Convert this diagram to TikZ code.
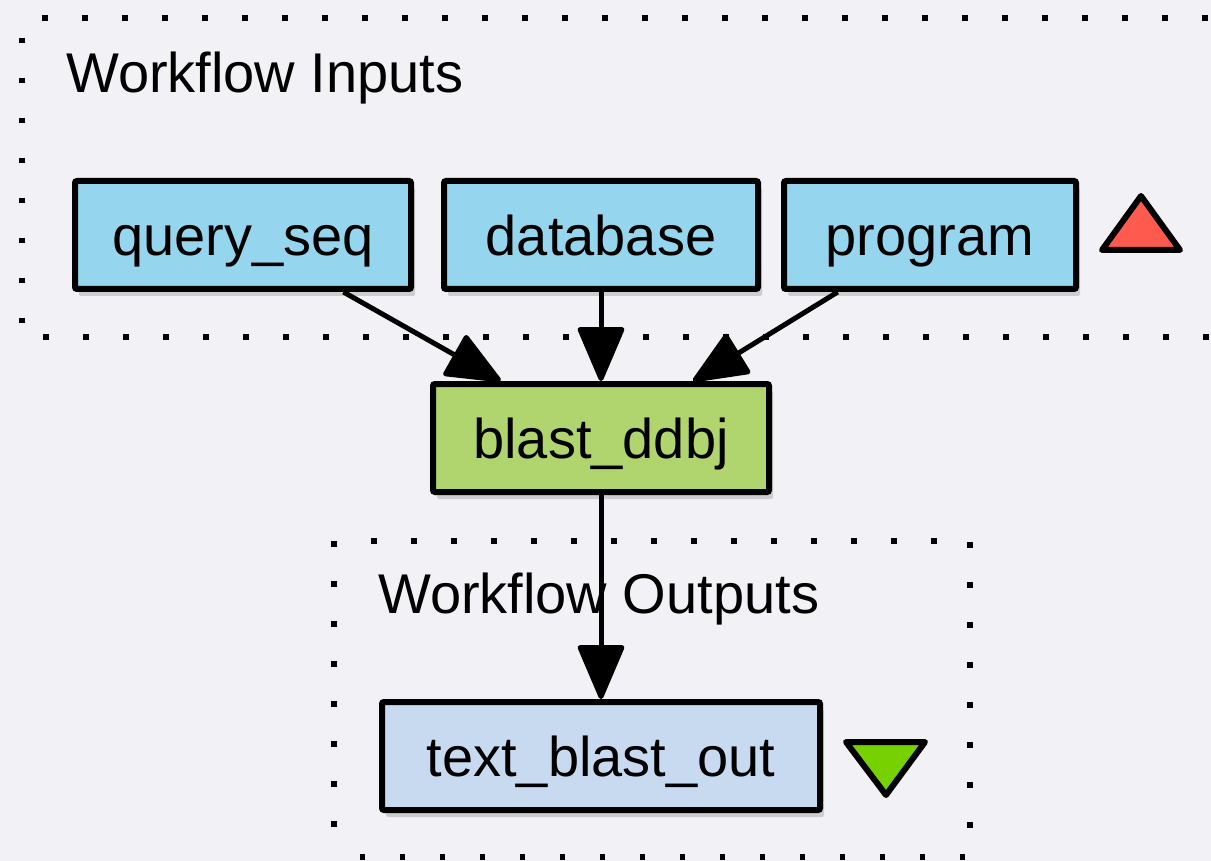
\documentclass[tikz,border=0pt]{standalone}
\usepackage{fontspec}
\setmainfont{Liberation Sans}
\usetikzlibrary{arrows.meta,shadows}
\definecolor{bgcol}{RGB}{241,241,246}
\definecolor{incol}{RGB}{149,214,238}
\definecolor{proccol}{RGB}{176,212,110}
\definecolor{outcol}{RGB}{200,218,240}
\definecolor{redtri}{RGB}{255,90,78}
\definecolor{greentri}{RGB}{119,208,0}
\tikzset{
  bigfont/.style={font=\fontsize{56}{60}\selectfont},
  boxbase/.style={draw=black, line width=6pt, rounded corners=2pt, bigfont,
     text height=41pt, text depth=0pt, minimum height=108pt,
     drop shadow={shadow xshift=4pt, shadow yshift=-7pt, opacity=0.15, fill=black}},
  inbox/.style={boxbase, fill=incol},
  procbox/.style={boxbase, fill=proccol},
  outbox/.style={boxbase, fill=outcol},
  grouplabel/.style={bigfont, anchor=base west, inner sep=0pt},
  dotborder/.style={line width=5.5pt, dash pattern=on 5.5pt off 34.5pt},
  flow/.style={line width=5pt, -{Triangle[length=58pt,width=48pt,round]}},
  tri/.style={draw=black, line width=6pt, line join=round}
}
\begin{document}
\begin{tikzpicture}[x=1pt,y=-1pt]
\fill[bgcol] (0,0) rectangle (1211,861);
\useasboundingbox (0,0) rectangle (1211,861);
% input group border
\draw[dotborder] (22,38) -- (22,337) -- (1240,337);
\draw[dotborder] (42,18) -- (1240,18);
\node[grouplabel] (inlabel) at (66,93) {Workflow Inputs};
% output group border
\draw[dotborder] (334,541) -- (334,857);
\draw[dotborder] (371,541) -- (970,541) -- (970,857) -- (334,857);
\node[grouplabel] (outlabel) at (378,613) {Workflow Outputs};
% nodes
\node[inbox, minimum width=336pt] (qs) at (243,235) {query\_seq};
\node[inbox, minimum width=314pt] (db) at (601,235) {database};
\node[inbox, minimum width=292pt] (pg) at (930,235) {program};
\node[procbox, minimum width=336pt] (bl) at (601,438) {blast\_ddbj};
\node[outbox, minimum width=438pt] (out) at (601,756) {text\_blast\_out};
% triangles
\draw[tri, fill=redtri] (1102,250) -- (1180,250) -- (1141,196) -- cycle;
\draw[tri, fill=greentri] (846,742) -- (925,742) -- (886,795) -- cycle;
% connectors
\draw[flow] (qs) -- (bl);
\draw[flow] (db) -- (bl);
\draw[flow] (pg) -- (bl);
\draw[flow] (bl) -- (out);
\end{tikzpicture}
\end{document}
